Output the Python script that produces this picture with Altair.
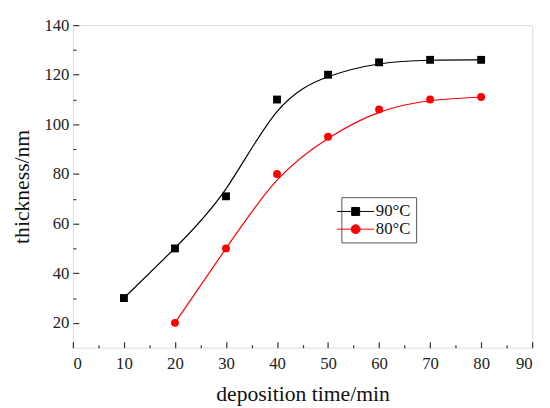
import altair as alt
import pandas as pd

series_names = ["90°C", "80°C"]
time_90 = [10, 20, 30, 40, 50, 60, 70, 80]
thick_90 = [30, 50, 71, 110, 120, 125, 126, 126]
time_80 = [20, 30, 40, 50, 60, 70, 80]
thick_80 = [20, 50, 80, 95, 106, 110, 111]

x_major = list(range(0, 91, 10))
x_minor = list(range(5, 90, 10))
y_major = list(range(20, 141, 20))
y_minor = list(range(30, 140, 20))

rows = [{"series": series_names[0], "time": t, "thickness": v} for t, v in zip(time_90, thick_90)]
rows += [{"series": series_names[1], "time": t, "thickness": v} for t, v in zip(time_80, thick_80)]
df = pd.DataFrame(rows)

FONT = "Liberation Serif"
COLORS = ["#000000", "#ff0000"]
xscale = alt.Scale(domain=[0, 90], nice=False, zero=False)
yscale = alt.Scale(domain=[10, 140], nice=False, zero=False)

# legend glyphs: line with marker in the middle
P_SQ = "M-2.1,0H2.1M-0.45,-0.45H0.45V0.45H-0.45Z"
P_CI = "M-2.1,0H2.1M0.5,0A0.5,0.5,0,1,1,-0.5,0A0.5,0.5,0,1,1,0.5,0Z"

legend = alt.Legend(
    title=None, orient="none", legendX=273, legendY=175,
    strokeColor="#555555", padding=5, rowPadding=0,
    symbolSize=324, symbolStrokeWidth=1, symbolOpacity=1,
    labelFont=FONT, labelFontSize=17, labelColor="#111111", labelOffset=11,
)

base = alt.Chart(df)
b90 = base.transform_filter(alt.datum.series == series_names[0])
b80 = base.transform_filter(alt.datum.series == series_names[1])


def tick_axis(orient, values, size):
    return alt.Axis(orient=orient, values=values, labels=False, domain=False, grid=False,
                    title=None, ticks=True, tickSize=size, offset=-size,
                    tickColor="#333333", tickWidth=1.2)


label_x = alt.Axis(
    orient="bottom", values=x_major, ticks=False, domain=False, grid=False,
    title="deposition time/min", labelPadding=8, titlePadding=13,
    labelFont=FONT, labelFontSize=17, labelColor="#222222",
    titleFont=FONT, titleFontSize=22, titleFontWeight="normal", titleColor="#111111")
label_y = alt.Axis(
    orient="left", values=y_major, ticks=False, domain=False, grid=False,
    title="thickness/nm", labelPadding=4, titlePadding=11,
    labelFont=FONT, labelFontSize=17, labelColor="#222222",
    titleFont=FONT, titleFontSize=22, titleFontWeight="normal", titleColor="#111111")

line90 = b90.mark_line(interpolate="basis", strokeWidth=1.2, color=COLORS[0]).encode(
    x=alt.X("time:Q", scale=xscale, axis=label_x),
    y=alt.Y("thickness:Q", scale=yscale, axis=label_y),
)
line80 = b80.mark_line(interpolate="basis", strokeWidth=1.2, color=COLORS[1]).encode(
    x=alt.X("time:Q", scale=xscale, axis=None),
    y=alt.Y("thickness:Q", scale=yscale, axis=None),
)

squares = b90.mark_square(size=64, opacity=1, color=COLORS[0]).encode(
    x=alt.X("time:Q", scale=xscale, axis=tick_axis("bottom", x_major, 6)),
    y=alt.Y("thickness:Q", scale=yscale, axis=tick_axis("left", y_major, 6)),
)

circles = b80.mark_circle(size=64, opacity=1, color=COLORS[1]).encode(
    x=alt.X("time:Q", scale=xscale, axis=tick_axis("bottom", x_minor, 3)),
    y=alt.Y("thickness:Q", scale=yscale, axis=tick_axis("left", y_minor, 3)),
)

legend_layer = base.mark_point(filled=True, strokeWidth=1, opacity=0).encode(
    shape=alt.Shape("series:N", scale=alt.Scale(domain=series_names, range=[P_SQ, P_CI]), legend=legend),
    fill=alt.Fill("series:N", scale=alt.Scale(domain=series_names, range=COLORS), legend=legend),
    stroke=alt.Stroke("series:N", scale=alt.Scale(domain=series_names, range=COLORS), legend=legend),
)

chart = alt.layer(line90, line80, squares, circles, legend_layer).resolve_axis(
    x="independent", y="independent"
).properties(
    width=467, height=328,
    padding={"left": 66, "top": 14, "right": 10, "bottom": 60},
    autosize=alt.AutoSizeParams(type="none"),
).configure_view(stroke="#444444", strokeWidth=1.5).configure_axis(
    labelFont=FONT, titleFont=FONT
).configure_legend(labelFont=FONT).configure(background="white")

chart.save("out.html", embed_options={"renderer": "svg", "actions": False})
